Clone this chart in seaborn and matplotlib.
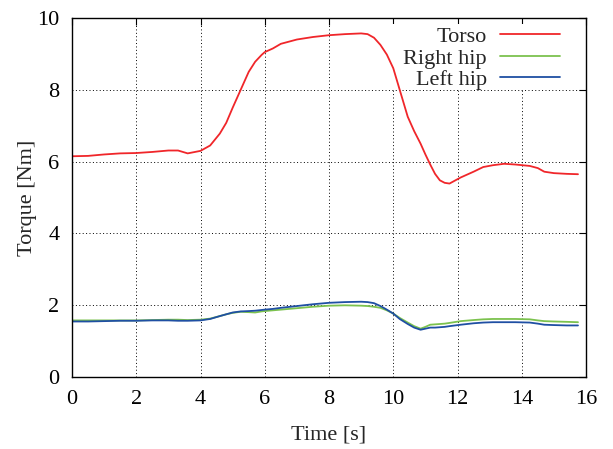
import numpy as np
import pandas as pd
import matplotlib
matplotlib.use('Agg')
import matplotlib.pyplot as plt
import matplotlib.patches as mpatches
import seaborn as sns

# ── Data ────────────────────────────────────────────────────────────────────
time_s = [0, 0.5, 1, 1.5, 2, 2.5, 3, 3.3, 3.6, 4, 4.3, 4.6, 4.8, 5, 5.25, 5.5,
          5.7, 5.9, 6.0, 6.25, 6.5, 7, 7.5, 8, 8.5, 9, 9.2, 9.4, 9.6, 9.8, 10,
          10.2, 10.45, 10.65, 10.85, 11.0, 11.15, 11.3, 11.45, 11.6, 11.75,
          12.1, 12.5, 12.8, 13.1, 13.45, 13.8, 14.25, 14.5, 14.7, 15, 15.4,
          15.75]
torso = [6.15, 6.16, 6.2, 6.23, 6.24, 6.27, 6.31, 6.31, 6.23, 6.3, 6.45, 6.78,
         7.08, 7.5, 8.0, 8.5, 8.78, 8.97, 9.05, 9.15, 9.28, 9.4, 9.47, 9.52,
         9.55, 9.57, 9.55, 9.45, 9.25, 8.98, 8.6, 8.0, 7.25, 6.85, 6.5, 6.2,
         5.92, 5.66, 5.48, 5.41, 5.39, 5.56, 5.72, 5.85, 5.9, 5.94, 5.92, 5.88,
         5.82, 5.72, 5.68, 5.66, 5.65]
right_hip = [1.58, 1.58, 1.58, 1.58, 1.58, 1.59, 1.6, 1.6, 1.59, 1.6, 1.63, 1.7,
             1.75, 1.79, 1.82, 1.81, 1.8, 1.83, 1.84, 1.86, 1.88, 1.92, 1.96,
             1.99, 2.0, 1.99, 1.98, 1.96, 1.93, 1.86, 1.77, 1.65, 1.52, 1.42,
             1.35, 1.4, 1.46, 1.47, 1.48, 1.49, 1.51, 1.56, 1.59, 1.61, 1.62,
             1.62, 1.62, 1.61, 1.58, 1.56, 1.55, 1.54, 1.53]
left_hip = [1.55, 1.55, 1.56, 1.57, 1.57, 1.58, 1.58, 1.57, 1.57, 1.58, 1.62,
            1.7, 1.75, 1.8, 1.83, 1.84, 1.85, 1.87, 1.88, 1.9, 1.93, 1.98, 2.03,
            2.07, 2.09, 2.1, 2.09, 2.06, 1.98, 1.88, 1.77, 1.62, 1.48, 1.38,
            1.32, 1.35, 1.38, 1.38, 1.39, 1.4, 1.42, 1.46, 1.5, 1.52, 1.53,
            1.53, 1.53, 1.52, 1.49, 1.46, 1.45, 1.44, 1.44]
series_names = ['Torso', 'Right hip', 'Left hip']
x_ticks = [0, 2, 4, 6, 8, 10, 12, 14, 16]
y_ticks = [0, 2, 4, 6, 8, 10]

# ── Style ───────────────────────────────────────────────────────────────────
sns.set_theme(style='white')
plt.rcParams['font.family'] = ['Liberation Serif', 'DejaVu Serif']
COLORS = {'Torso': '#f0262a', 'Right hip': '#7cc24e', 'Left hip': '#1f4fa3'}

df = pd.DataFrame({
    'Time': time_s * 3,
    'Torque': torso + right_hip + left_hip,
    'Series': [n for n in series_names for _ in time_s],
})

fig = plt.figure(figsize=(6.13, 4.49), dpi=100)
ax = fig.add_axes([0.1175, 0.160, 0.8385, 0.800])

sns.lineplot(data=df, x='Time', y='Torque', hue='Series', hue_order=series_names,
             palette=COLORS, linewidth=1.3, ax=ax, sort=False)

ax.set_xlim(0, 16)
ax.set_ylim(0, 10)
ax.set_xticks(x_ticks)
ax.set_yticks(y_ticks)
ax.grid(True, color='black', linestyle=(0, (1, 2.5)), linewidth=0.7)
ax.set_axisbelow(True)
ax.tick_params(direction='in', top=True, right=True, length=5, width=0.8,
               labelsize=16, colors='black', pad=9)
for s in ax.spines.values():
    s.set_visible(True)
    s.set_color('black')
    s.set_linewidth(1.0)

ax.set_xlabel('Time [s]', fontsize=16, labelpad=12)
ax.set_ylabel('Torque [Nm]', fontsize=16, labelpad=0)

# white key box (gnuplot style): hides the grid, sits under the curves
ax.add_patch(mpatches.Rectangle((0.570, 0.80), 0.405, 0.184, transform=ax.transAxes,
                                facecolor='white', edgecolor='none', zorder=1))

leg = ax.legend(loc='upper right', bbox_to_anchor=(0.98, 1.02), frameon=False,
                fontsize=16, markerfirst=False, handlelength=2.7,
                handletextpad=0.6, labelspacing=0.05, borderaxespad=0.4,
                borderpad=0.3)
leg.set_zorder(1.5)
leg._legend_box.align = 'right'
for t in leg.get_texts():
    t.set_ha('right')

fig.savefig('out.png', dpi=100)
